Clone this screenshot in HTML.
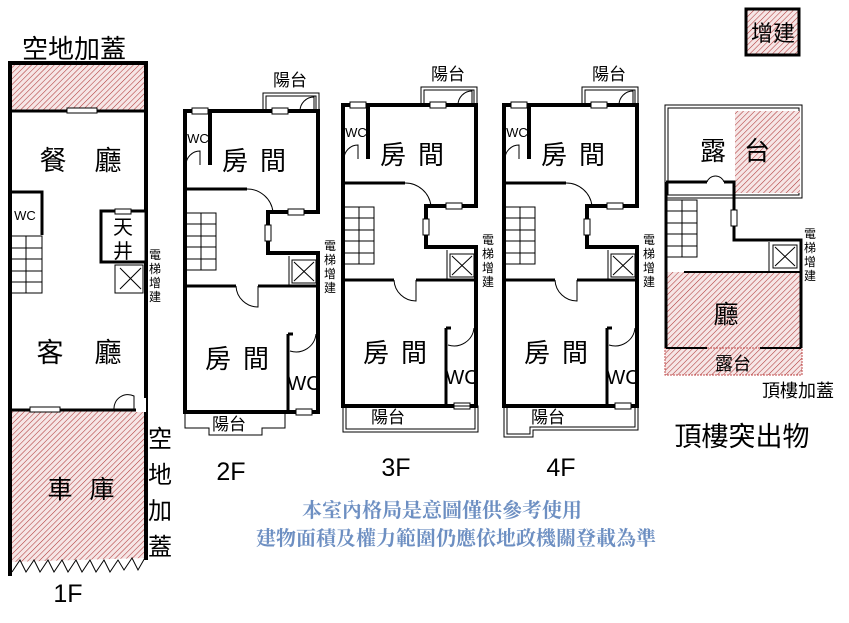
<!DOCTYPE html>
<html><head><meta charset="utf-8"><style>
body{margin:0;background:#fff;}
svg{display:block;}
text{font-family:"Liberation Sans","Noto Sans CJK TC",sans-serif;fill:#000;}
</style></head><body>
<svg width="849" height="623" viewBox="0 0 849 623" xmlns="http://www.w3.org/2000/svg">
<defs>
<pattern id="h" width="4" height="4" patternUnits="userSpaceOnUse" patternTransform="rotate(45)">
<rect width="4" height="4" fill="#f6e6e6"/><line x1="0" y1="0" x2="0" y2="4" stroke="#b03a3a" stroke-width="1.1"/>
</pattern>
<g id="fl">
  <rect x="263" y="93" width="56" height="18" fill="none" stroke="#000" stroke-width="1"/>
  <rect x="266" y="96" width="50" height="15" fill="none" stroke="#000" stroke-width="1"/>
  <text x="290" y="86" font-size="17" text-anchor="middle">陽台</text>
  <path d="M185 111H318V212H268V253H318V412H185Z" fill="#fff" stroke="#000" stroke-width="4"/>
  <rect x="192" y="108" width="16" height="6" fill="#fff" stroke="#000" stroke-width="1"/>
  <rect x="272" y="108" width="16" height="6" fill="#fff" stroke="#000" stroke-width="1"/>
  <rect x="288" y="209" width="16" height="6" fill="#fff" stroke="#000" stroke-width="1"/>
  <rect x="265" y="225" width="6" height="16" fill="#fff" stroke="#000" stroke-width="1"/>
  <rect x="296" y="409" width="16" height="6" fill="#fff" stroke="#000" stroke-width="1"/>
  <path d="M210 111V165" stroke="#000" stroke-width="4"/>
  <path d="M186 165A14 14 0 0 1 200 151V165" fill="none" stroke="#000" stroke-width="1"/>
  <text x="198" y="143" font-size="13" text-anchor="middle">WC</text>
  <path d="M300 111A14 14 0 0 1 314 97V111" fill="none" stroke="#000" stroke-width="1"/>
  <text x="260" y="170" font-size="26" text-anchor="middle" letter-spacing="12">房間</text>
  <path d="M185 189H247" stroke="#000" stroke-width="3"/>
  <path d="M247 189A26 26 0 0 1 273 212" fill="none" stroke="#000" stroke-width="1"/>
  <g fill="none" stroke="#000" stroke-width="1">
  <rect x="186" y="213" width="30" height="57"/>
  <path d="M201 213V270M186 224H216M186 236H216M186 247H216M186 259H216"/>
  </g>
  <rect x="292" y="260" width="24" height="23" fill="none" stroke="#000" stroke-width="1"/>
  <path d="M294 262L314 281M314 262L294 281" stroke="#000" stroke-width="1"/>
  <path d="M289 256V286" stroke="#000" stroke-width="1"/>
  <path d="M185 286H236M258 286H318" stroke="#000" stroke-width="3"/>
  <path d="M236 286A22 22 0 0 0 258 307V286" fill="none" stroke="#000" stroke-width="1"/>
  <path d="M288 334V412M288 334H293" stroke="#000" stroke-width="3"/>
  <path d="M290 351A20 20 0 0 0 316 334" fill="none" stroke="#000" stroke-width="1"/>
  <text x="304" y="390" font-size="20" text-anchor="middle">WC</text>
  <text x="243" y="368" font-size="26" text-anchor="middle" letter-spacing="12">房間</text>
  <g font-size="12"><text x="330" y="250" text-anchor="middle">電</text><text x="330" y="264" text-anchor="middle">梯</text><text x="330" y="278" text-anchor="middle">增</text><text x="330" y="292" text-anchor="middle">建</text></g>
</g>
</defs>

<use href="#fl"/>
<path d="M185 412V428H209V435H262V428H285V412" fill="none" stroke="#000" stroke-width="1"/>
<text x="229" y="430" font-size="17" text-anchor="middle">陽台</text>
<text x="231" y="480" font-size="25" text-anchor="middle">2F</text>
<use href="#fl" transform="translate(158,-6)"/>
<rect x="343" y="406" width="135" height="26" fill="none" stroke="#000" stroke-width="1"/>
<rect x="346" y="406" width="129" height="23" fill="none" stroke="#000" stroke-width="1"/>
<text x="388" y="423" font-size="17" text-anchor="middle">陽台</text>
<text x="396" y="476" font-size="25" text-anchor="middle">3F</text>
<use href="#fl" transform="translate(319,-6)"/>
<path d="M504 406V437H533V430H638V406" fill="none" stroke="#000" stroke-width="1"/>
<path d="M507 406V434H530V427H635V406" fill="none" stroke="#000" stroke-width="1"/>
<text x="548" y="423" font-size="17" text-anchor="middle">陽台</text>
<text x="561" y="476" font-size="25" text-anchor="middle">4F</text>

<text x="74" y="58" font-size="26" text-anchor="middle">空地加蓋</text>
<rect x="11" y="63" width="134" height="48" fill="url(#h)"/>
<path d="M10 410V562L146 558V410Z" fill="url(#h)"/>
<path d="M12 572L20 560L26 572L34 560L40 572L48 560L54 572L62 560L68 572L76 560L82 572L90 560L96 572L104 560L110 572L118 560L124 570L132 558L138 570L146 556" fill="none" stroke="#000" stroke-width="1"/>
<path d="M10 576V63H146V560" fill="none" stroke="#000" stroke-width="4"/>
<path d="M10 111H146M10 410H146" stroke="#000" stroke-width="3"/>
<rect x="67" y="108" width="30" height="5" fill="#fff" stroke="#000" stroke-width="1"/>
<rect x="30" y="407" width="30" height="5" fill="#fff" stroke="#000" stroke-width="1"/>
<path d="M114 410A14 14 0 0 1 134 396V410" fill="none" stroke="#000" stroke-width="1"/>
<rect x="136" y="398" width="10" height="14" fill="#fff"/>
<path d="M10 192H42V197M42 192V235" fill="none" stroke="#000" stroke-width="3"/>
<text x="25" y="220" font-size="13" text-anchor="middle">WC</text>
<g fill="none" stroke="#000" stroke-width="1">
<rect x="11" y="236" width="31" height="57"/>
<path d="M26 236V293M11 248H42M11 259H42M11 271H42M11 282H42"/>
</g>
<rect x="101" y="211" width="45" height="51" fill="#fff" stroke="#000" stroke-width="3"/>
<rect x="115" y="209" width="16" height="5" fill="#fff" stroke="#000" stroke-width="1"/>
<text x="123" y="234" font-size="20" text-anchor="middle">天</text>
<text x="123" y="258" font-size="20" text-anchor="middle">井</text>
<rect x="115" y="265" width="28" height="28" fill="none" stroke="#000" stroke-width="1"/>
<path d="M120 268L141 289M141 268L120 289" stroke="#000" stroke-width="1"/>
<g font-size="12"><text x="155" y="259" text-anchor="middle">電</text><text x="155" y="273" text-anchor="middle">梯</text><text x="155" y="287" text-anchor="middle">增</text><text x="155" y="301" text-anchor="middle">建</text></g>
<text x="53" y="170" font-size="27" text-anchor="middle">餐</text>
<text x="108" y="170" font-size="27" text-anchor="middle">廳</text>
<text x="50" y="362" font-size="27" text-anchor="middle">客</text>
<text x="108" y="362" font-size="27" text-anchor="middle">廳</text>
<text x="60" y="498" font-size="25" text-anchor="middle">車</text>
<text x="102" y="498" font-size="25" text-anchor="middle">庫</text>
<g font-size="24"><text x="160" y="447" text-anchor="middle">空</text><text x="160" y="483" text-anchor="middle">地</text><text x="160" y="519" text-anchor="middle">加</text><text x="160" y="555" text-anchor="middle">蓋</text></g>
<text x="68" y="602" font-size="25" text-anchor="middle">1F</text>

<rect x="665" y="105" width="137" height="93" fill="none" stroke="#000" stroke-width="1"/>
<rect x="668" y="108" width="131" height="87" fill="none" stroke="#000" stroke-width="1"/>
<rect x="735" y="111" width="65" height="82" fill="url(#h)"/>
<text x="713" y="160" font-size="26" text-anchor="middle">露</text>
<text x="757" y="160" font-size="26" text-anchor="middle">台</text>
<rect x="665" y="272" width="136" height="76" fill="url(#h)"/>
<rect x="665" y="348" width="137" height="27" fill="url(#h)" stroke="#c04a4a" stroke-width="1" stroke-dasharray="2 1"/>
<path d="M666 182V348M666 182H707M724 182H734V240H801V348" fill="none" stroke="#000" stroke-width="3"/>
<path d="M707 182A9 9 0 0 1 724 182" fill="none" stroke="#000" stroke-width="1"/>
<rect x="731" y="210" width="6" height="16" fill="#fff" stroke="#000" stroke-width="1"/>
<g fill="none" stroke="#000" stroke-width="1">
<rect x="667" y="200" width="30" height="57"/>
<path d="M682 200V257M667 211H697M667 223H697M667 234H697M667 246H697"/>
<rect x="773" y="245" width="24" height="23"/>
<path d="M775 247L795 266M795 247L775 266M769 242V272"/>
</g>
<path d="M684 272H801M666 348H707M760 348H801" stroke="#000" stroke-width="2"/>
<text x="726" y="323" font-size="25" text-anchor="middle">廳</text>
<text x="733" y="370" font-size="18" text-anchor="middle">露台</text>
<g font-size="12"><text x="810" y="238" text-anchor="middle">電</text><text x="810" y="252" text-anchor="middle">梯</text><text x="810" y="266" text-anchor="middle">增</text><text x="810" y="280" text-anchor="middle">建</text></g>
<text x="798" y="397" font-size="18" text-anchor="middle">頂樓加蓋</text>
<text x="742" y="446" font-size="27" text-anchor="middle">頂樓突出物</text>

<rect x="746" y="9" width="53" height="46" fill="url(#h)" stroke="#000" stroke-width="3"/>
<text x="773" y="41" font-size="22" text-anchor="middle">增建</text>

<text x="442" y="517" text-anchor="middle" font-size="20" font-weight="bold" style="font-family:'Noto Serif CJK TC','Noto Serif CJK SC',serif;fill:#6d8fc2">本室內格局是意圖僅供參考使用</text>
<text x="456" y="545" text-anchor="middle" font-size="20" font-weight="bold" style="font-family:'Noto Serif CJK TC','Noto Serif CJK SC',serif;fill:#6d8fc2">建物面積及權力範圍仍應依地政機關登載為準</text>
</svg>
</body></html>
